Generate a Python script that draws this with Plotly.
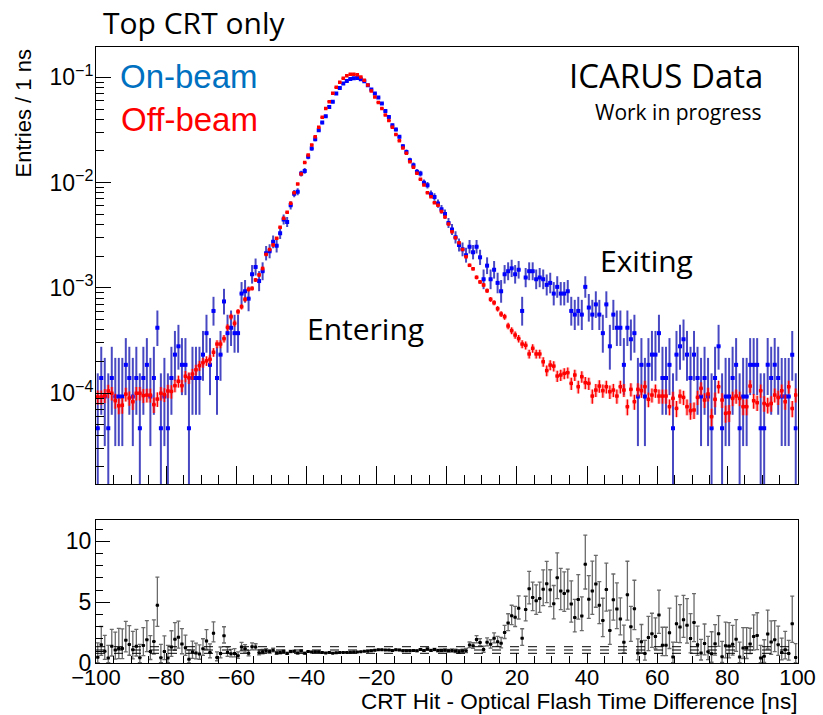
import numpy as np
import plotly.graph_objects as go

# ---------------------------------------------------------------------------
# Histogram contents: 200 bins of 1 ns between -100 and +100 ns
# ---------------------------------------------------------------------------
BIN_LOW, BIN_HIGH, BIN_WIDTH = -100.0, 100.0, 1.0

# On-beam: raw entries per bin, and weight of one entry after normalisation
ON_BEAM_COUNTS = [
    1, 3, 2, 1, 3, 2, 2, 2, 4, 3, 2, 3, 1, 3, 4, 2, 3, 9, 1, 2,
    1, 3, 5, 6, 4, 4, 1, 3, 3, 3, 5, 8, 4, 13, 3, 5, 16, 8, 9, 8,
    8, 19, 20, 17, 29, 34, 25, 31, 46, 48, 59, 54, 71, 96, 91, 131, 169, 176, 262, 278,
    378, 453, 555, 676, 800, 918, 1126, 1257, 1507, 1707, 1876, 1989, 2078, 2108, 2124, 2064, 1975, 1810, 1647, 1507,
    1380, 1211, 1032, 905, 754, 686, 585, 476, 421, 351, 315, 272, 262, 214, 203, 167, 157, 136, 120, 108,
    89, 77, 65, 55, 50, 44, 53, 47, 53, 42, 26, 35, 26, 32, 24, 20, 29, 31, 33, 29,
    32, 13, 27, 31, 31, 26, 27, 26, 23, 24, 19, 22, 19, 19, 20, 13, 12, 13, 12, 22,
    14, 12, 15, 12, 8, 15, 6, 12, 9, 9, 4, 9, 7, 8, 2, 4, 2, 4, 5, 5,
    8, 3, 3, 4, 1, 5, 6, 7, 5, 3, 5, 3, 2, 3, 2, 1, 3, 6, 1, 2,
    2, 3, 4, 1, 2, 2, 4, 4, 4, 1, 1, 4, 3, 4, 3, 2, 2, 2, 5, 1,
]
ON_BEAM_WEIGHT = 4.65e-5

# Off-beam: normalised entries per bin, in units of 1e-4
OFF_BEAM_E4 = [
    0.92, 0.92, 0.95, 1.05, 1.00, 0.85, 0.76, 0.77, 0.98, 0.90,
    0.83, 1.00, 1.00, 0.95, 0.96, 0.96, 0.78, 0.88, 1.00, 0.97,
    1.05, 1.04, 1.18, 1.30, 1.18, 1.45, 1.40, 1.52, 1.67, 1.83,
    1.95, 2.03, 2.10, 2.45, 2.93, 2.93, 3.30, 4.22, 5.33, 4.61,
    5.95, 6.63, 7.79, 9.70, 9.90, 11.9, 13.3, 15.3, 20.8, 23.2,
    25.6, 29.6, 37.6, 45.8, 52.2, 63.6, 80.3, 97.0, 121, 155,
    183, 228, 273, 335, 417, 507, 587, 704, 803, 896,
    978, 1036, 1067, 1067, 1060, 1007, 936, 845, 741, 650,
    578, 507, 439, 388, 335, 287, 250, 213, 190, 158,
    139.6, 122.4, 107.4, 94.9, 80.3, 73.5, 64.5, 60.8, 53.3, 47.1,
    40.4, 34.2, 30.0, 26.9, 23.2, 19.8, 16.4, 15.2, 12.6, 11.4,
    10.66, 9.41, 7.79, 7.24, 6.35, 5.65, 5.33, 4.35, 3.93, 3.57,
    3.30, 2.93, 2.85, 2.36, 2.67, 2.36, 2.36, 1.99, 1.64, 1.85,
    1.81, 1.457, 1.489, 1.544, 1.567, 1.241, 1.489, 1.154, 1.436, 1.26,
    1.241, 0.94, 1.072, 1.17, 1.057, 1.154, 1.034, 1.072, 0.94, 1.154,
    1.072, 0.745, 1.088, 0.831, 1.088, 1.057, 1.154, 0.875, 0.961, 1.057,
    0.94, 0.94, 0.94, 0.745, 0.894, 0.718, 0.94, 0.913, 0.745, 0.683,
    0.693, 0.913, 1.112, 0.862, 0.983, 0.599, 0.875, 1.154, 0.862, 0.644,
    0.652, 0.894, 0.94, 0.894, 0.745, 0.745, 1.17, 0.849, 0.813, 1.057,
    0.801, 0.773, 0.801, 0.961, 0.913, 1.057, 0.831, 1.154, 0.718, 0.961,
]
OFF_BEAM_WEIGHT = 2.2e-6

# Reference lines drawn in the ratio pad
RATIO_GUIDES = [0.82, 1.09, 1.36]

# Axis labelling
LOG_TICKS = [1e-4, 1e-3, 1e-2, 1e-1]
LOG_TICK_TEXT = ["10<sup>\u22124</sup>", "10<sup>\u22123</sup>", "10<sup>\u22122</sup>", "10<sup>\u22121</sup>"]
RATIO_TICKS = [0, 5, 10]

# ---------------------------------------------------------------------------
centers = np.arange(BIN_LOW + BIN_WIDTH / 2, BIN_HIGH, BIN_WIDTH)
n_on = np.array(ON_BEAM_COUNTS, dtype=float)
on = n_on * ON_BEAM_WEIGHT
off = np.array(OFF_BEAM_E4) * 1e-4

# Poisson (Garwood-like) interval on the on-beam counts
n_lo = np.where(n_on > 0, n_on - np.sqrt(np.clip(n_on - 0.25, 0, None)), 0.0)
n_hi = n_on + np.sqrt(n_on + 0.75) + 1.0
on_err_up = (n_hi - n_on) * ON_BEAM_WEIGHT
on_err_dn = (n_on - n_lo) * ON_BEAM_WEIGHT
off_err = np.sqrt(off * OFF_BEAM_WEIGHT)

ratio = on / off
rel_off = off_err / off
ratio_up = ratio * np.sqrt(((n_hi - n_on) / n_on) ** 2 + rel_off ** 2)
ratio_dn = ratio * np.sqrt(((n_on - n_lo) / n_on) ** 2 + rel_off ** 2)
half_bin = np.full_like(centers, BIN_WIDTH / 2)

W, H = 823, 715
X_DOM = [96 / W, 797.5 / W]
TOP_DOM = [(H - 484) / H, (H - 47.3) / H]
BOT_DOM = [(H - 663.3) / H, (H - 520) / H]

BLUE, RED = "#0000ff", "#ff0000"
AX_FONT = dict(family="Liberation Sans, Arial, sans-serif", size=23, color="black")
X2_FONT = dict(AX_FONT, size=22)
TXT_FONT = "Open Sans, sans-serif"

fig = go.Figure()

# on-beam
fig.add_trace(go.Scatter(
    x=centers, y=on, mode="markers", xaxis="x", yaxis="y",
    marker=dict(symbol="square", size=4, color=BLUE),
    error_y=dict(type="data", array=on_err_up, arrayminus=on_err_dn, symmetric=False,
                 color="rgba(40,40,185,0.85)", thickness=2, width=0),
    error_x=dict(type="data", array=half_bin, color=BLUE, thickness=1.2, width=0),
    showlegend=False, hoverinfo="skip"))

# off-beam uncertainty boxes
fig.add_trace(go.Scatter(
    x=centers, y=off, mode="markers", xaxis="x", yaxis="y",
    marker=dict(size=1, color="rgba(0,0,0,0)"),
    error_y=dict(type="data", array=off_err, color="rgba(255,70,70,0.35)", thickness=3.5, width=0),
    showlegend=False, hoverinfo="skip"))

# off-beam
fig.add_trace(go.Scatter(
    x=centers, y=off, mode="markers", xaxis="x", yaxis="y",
    marker=dict(symbol="square", size=3.5, color=RED),
    error_y=dict(type="data", array=off_err, color=RED, thickness=1.3, width=0),
    error_x=dict(type="data", array=half_bin, color=RED, thickness=1.2, width=0),
    showlegend=False, hoverinfo="skip"))

# ratio pad
for g in RATIO_GUIDES:
    fig.add_shape(type="line", xref="x2", yref="y2", x0=BIN_LOW, x1=BIN_HIGH, y0=g, y1=g,
                  line=dict(color="black", width=1, dash="dash"))

fig.add_trace(go.Scatter(
    x=centers, y=ratio, mode="markers", xaxis="x2", yaxis="y2",
    marker=dict(symbol="square", size=3, color="black"),
    error_y=dict(type="data", array=ratio_up, arrayminus=ratio_dn, symmetric=False,
                 color="#6a6a6a", thickness=1.3, width=2),
    error_x=dict(type="data", array=half_bin, color="black", thickness=1, width=0),
    showlegend=False, hoverinfo="skip"))

common_x = dict(range=[BIN_LOW, BIN_HIGH], domain=X_DOM, showline=True, mirror=True,
                linecolor="black", linewidth=1, showgrid=False, zeroline=False, automargin=False,
                ticks="inside", tickcolor="black", tick0=-100, dtick=20)

fig.update_layout(
    width=W, height=H, margin=dict(l=0, r=0, t=0, b=0, autoexpand=False),
    paper_bgcolor="white", plot_bgcolor="white",
    xaxis=dict(**common_x, anchor="y", ticklen=18, showticklabels=False,
               minor=dict(dtick=5, ticklen=9, ticks="inside", tickcolor="black")),
    yaxis=dict(type="log", range=[-4.862, -0.715], domain=TOP_DOM, anchor="x", automargin=False,
               showline=True, mirror=True, linecolor="black", linewidth=1,
               showgrid=False, zeroline=False, ticks="inside", ticklen=15, tickcolor="black",
               tickvals=LOG_TICKS, ticktext=LOG_TICK_TEXT, tickfont=AX_FONT, ticklabelstandoff=-3,
               minor=dict(ticks="inside", ticklen=8, dtick="D1", tickcolor="black", showgrid=False)),
    xaxis2=dict(**common_x, anchor="y2", ticklen=10, tickfont=X2_FONT, ticklabelstandoff=-6,
                minor=dict(dtick=5, ticklen=7, ticks="inside", tickcolor="black")),
    yaxis2=dict(range=[0, 11.75], domain=BOT_DOM, anchor="x2", automargin=False,
                showline=True, mirror=True, linecolor="black", linewidth=1,
                showgrid=False, zeroline=False, ticks="inside", ticklen=14, tickcolor="black",
                tickvals=RATIO_TICKS, tickfont=AX_FONT, ticklabelstandoff=-1,
                minor=dict(dtick=1, ticklen=7, ticks="inside", tickcolor="black")),
)


def px(x, y):
    return x / W, 1 - y / H


def note(text, x, y, xanchor, size, color="black", family=TXT_FONT, angle=0, yanchor="middle"):
    xp, yp = px(x, y)
    fig.add_annotation(text=text, x=xp, y=yp, xref="paper", yref="paper",
                       xanchor=xanchor, yanchor=yanchor, showarrow=False, textangle=angle,
                       borderpad=0, font=dict(family=family, size=size, color=color))


note("Top CRT only", 102, 22, "left", 30)
note("On-beam", 119, 76.5, "left", 33, color="#0070c0", family=AX_FONT["family"])
note("Off-beam", 120, 119.5, "left", 33, color=RED, family=AX_FONT["family"])
note("ICARUS Data", 764, 75.5, "right", 33)
note("Work in progress", 763, 112, "right", 21)
note("Entering", 306, 328.5, "left", 30)
note("Exiting", 599, 260, "left", 30)
note("Entries / 1 ns", 23, 113.5, "center", 22, family=AX_FONT["family"], angle=-90)
note("CRT Hit - Optical Flash Time Difference [ns]", 798, 715, "right", 22.5,
     family=AX_FONT["family"], yanchor="bottom")

fig.write_html("out.html")
